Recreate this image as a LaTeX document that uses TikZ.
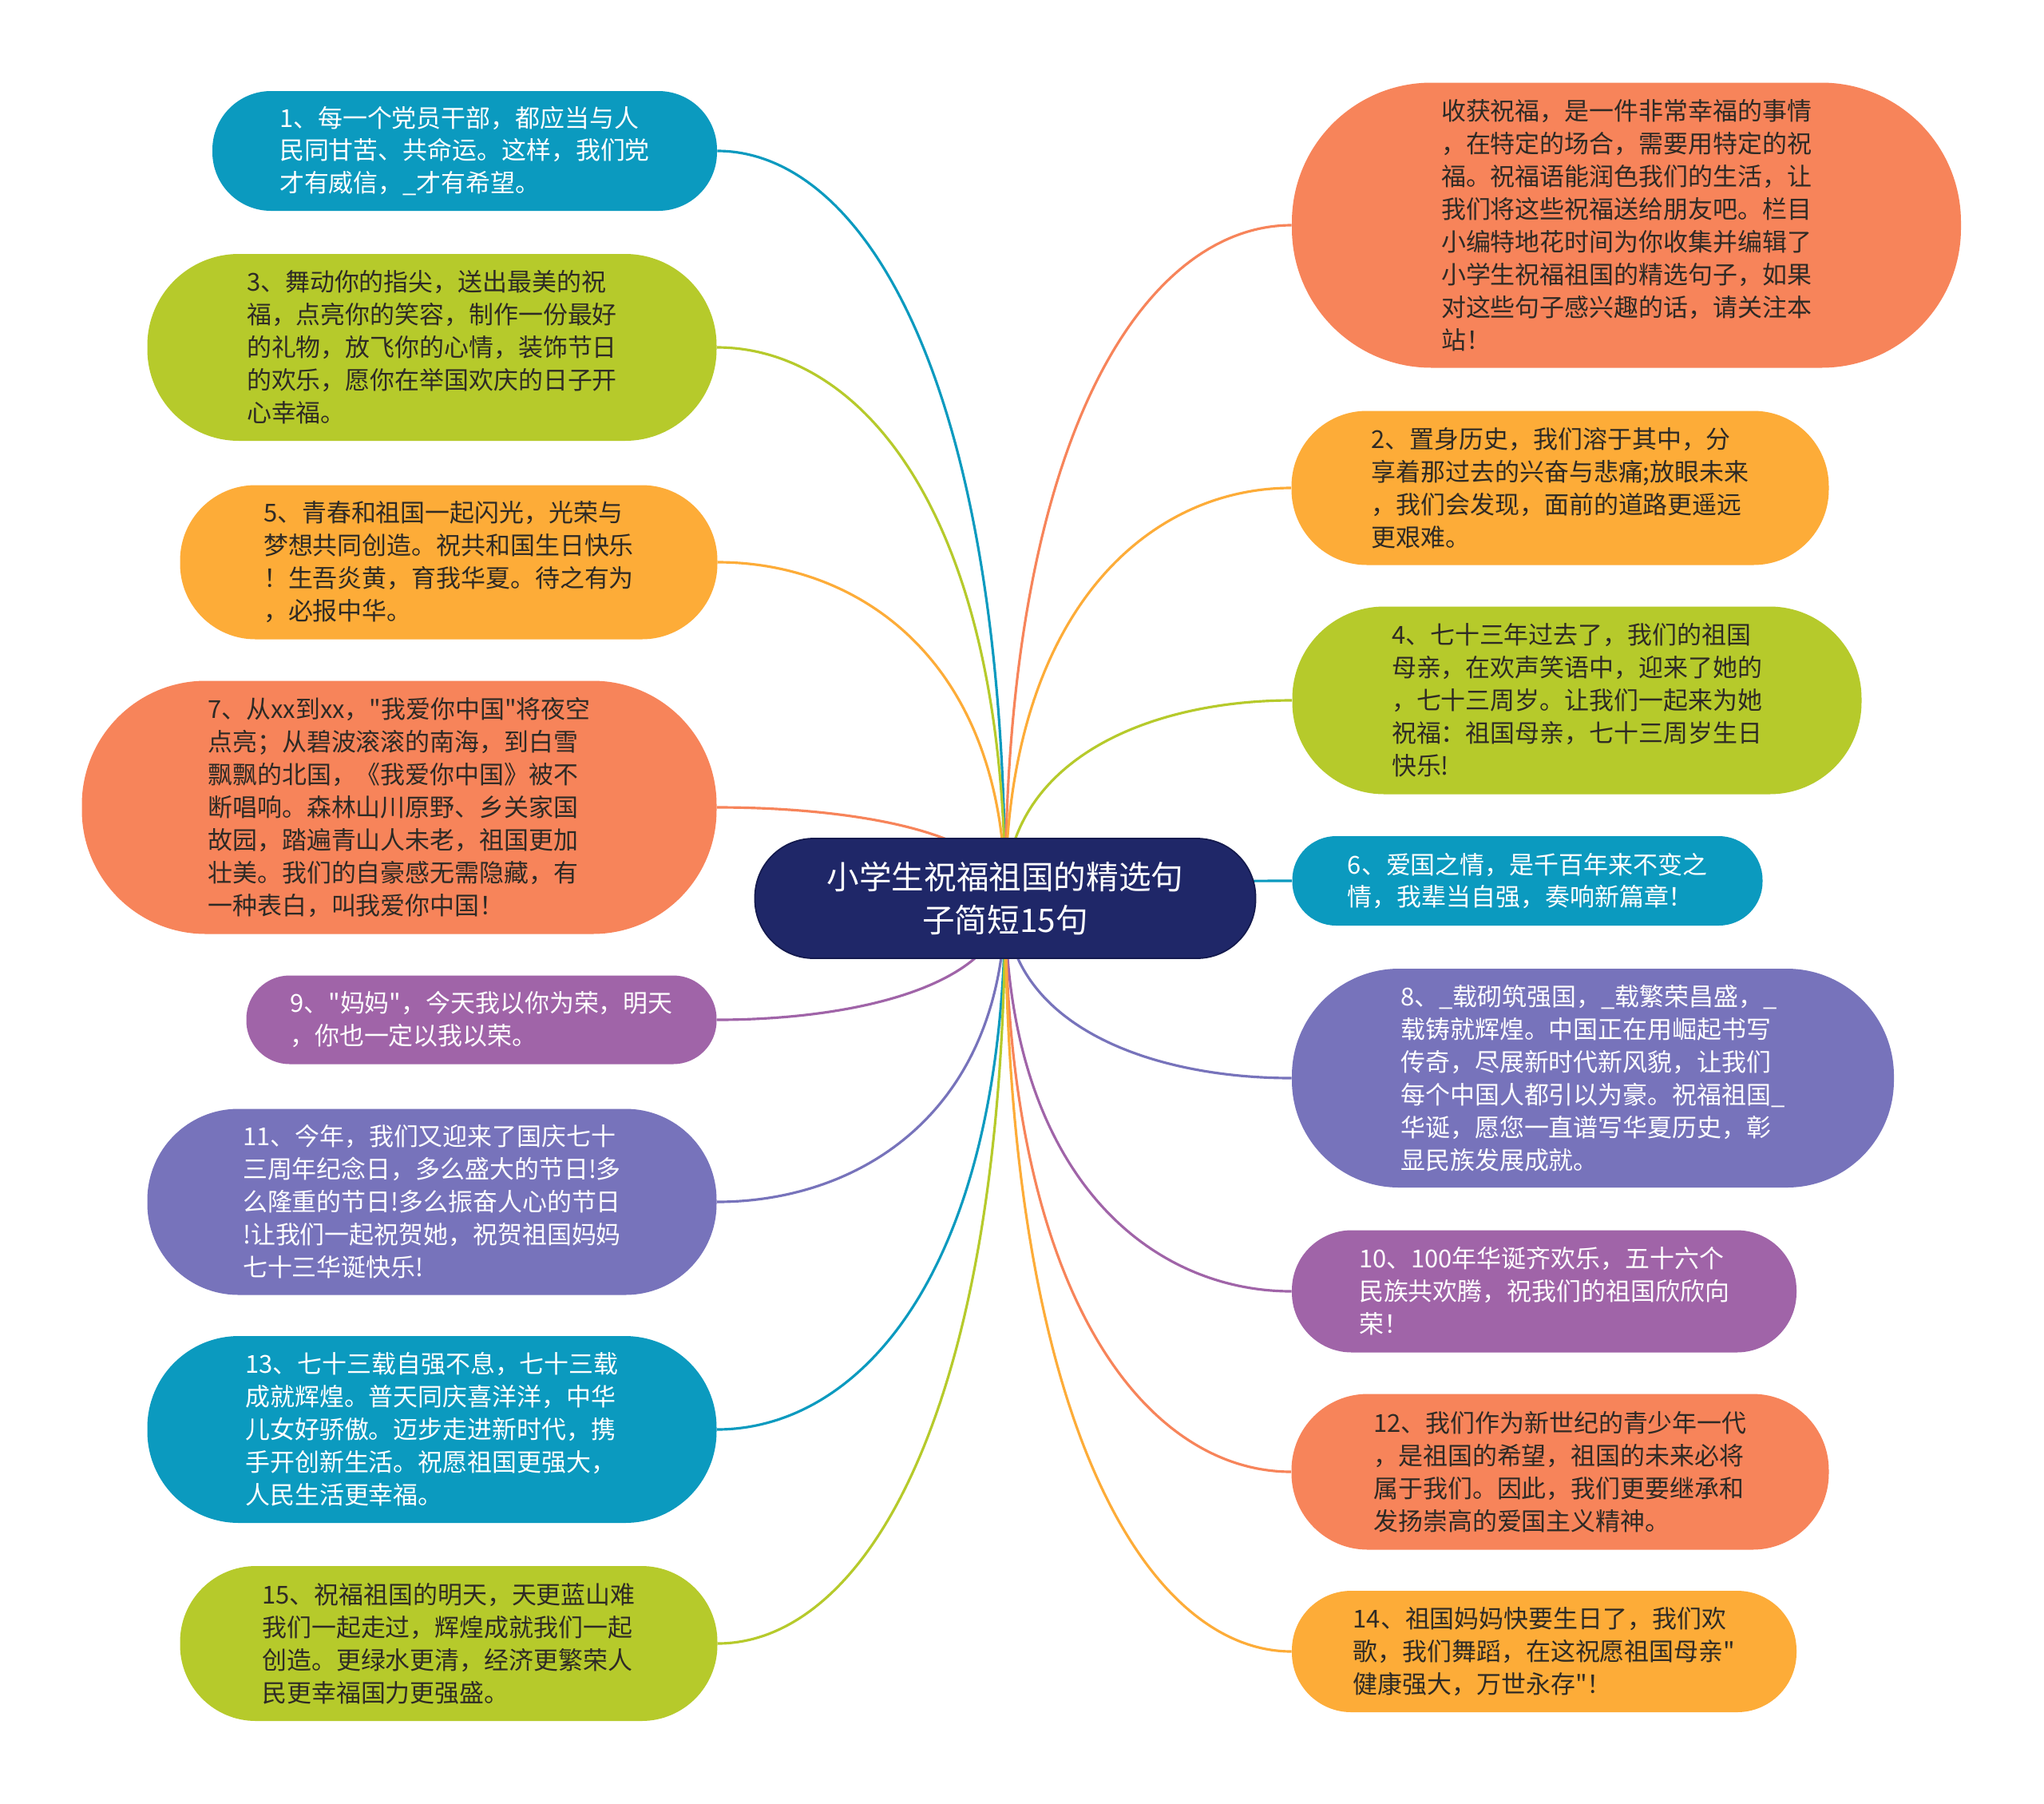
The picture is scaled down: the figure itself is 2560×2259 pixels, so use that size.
\documentclass[tikz,border=0pt]{standalone}
\usepackage{fontspec}
\newfontfamily\mmcjk{Noto Sans CJK SC}
\usetikzlibrary{calc,backgrounds}
\definecolor{cteal}{HTML}{0B9ABF}
\definecolor{cgreen}{HTML}{B6CA2B}
\definecolor{corange}{HTML}{FDAC38}
\definecolor{ccoral}{HTML}{F7845A}
\definecolor{cpurple}{HTML}{A064A8}
\definecolor{cblue}{HTML}{7773BB}
\definecolor{cnavy}{HTML}{1F2768}
\definecolor{cnavyd}{HTML}{141A4E}
\definecolor{cdark}{HTML}{2E2A25}
\newcommand\mmbody{\mmcjk\fontsize{17.6pt}{23.3pt}\selectfont}
\newcommand\mmtitle{\mmcjk\fontsize{23.1pt}{30.6pt}\selectfont}
\newcommand\mmlink[3]{\draw[link,#2] (#1) .. controls ($(#1)!0.5!(c.center|-#1)$) and ($(c.center|-#1)!0.3!(c.center)$) .. (#3);}
\begin{document}
\begin{tikzpicture}[x=0.02cm,y=-0.02cm,
  bub/.style n args={3}{shape=rectangle, minimum width=#1*0.02cm, minimum height=#2*0.02cm,
    rounded corners=#2*0.0098cm, inner sep=0pt, fill=#3, align=left, font=\mmbody},
  link/.style={line width=1.8pt}]
\useasboundingbox (0,0) rectangle (2560,2259);
% central
\node[bub={627}{150}{cnavy}, draw=cnavyd, line width=1pt, text=white, font=\mmtitle, align=center] (c) at (1259,1125) {小学生祝福祖国的精选句\\子简短15句};
% left
\node[bub={632}{150}{cteal}, text=white] (n1) at (582,189) {1、每一个党员干部，都应当与人\\民同甘苦、共命运。这样，我们党\\才有威信，\_才有希望。};
\node[bub={713}{234}{cgreen}, text=cdark] (n3) at (541,435) {3、舞动你的指尖，送出最美的祝\\福，点亮你的笑容，制作一份最好\\的礼物，放飞你的心情，装饰节日\\的欢乐，愿你在举国欢庆的日子开\\心幸福。};
\node[bub={673}{193}{corange}, text=cdark] (n5) at (562,704) {5、青春和祖国一起闪光，光荣与\\梦想共同创造。祝共和国生日快乐\\！生吾炎黄，育我华夏。待之有为\\，必报中华。};
\node[bub={795}{317}{ccoral}, text=cdark] (n7) at (500,1011) {7、从xx到xx，"我爱你中国"将夜空\\点亮；从碧波滚滚的南海，到白雪\\飘飘的北国，《我爱你中国》被不\\断唱响。森林山川原野、乡关家国\\故园，踏遍青山人未老，祖国更加\\壮美。我们的自豪感无需隐藏，有\\一种表白，叫我爱你中国！};
\node[bub={589}{111}{cpurple}, text=white] (n9) at (603,1277) {9、"妈妈"，今天我以你为荣，明天\\，你也一定以我以荣。};
\node[bub={713}{233}{cblue}, text=white] (n11) at (541,1505) {11、今年，我们又迎来了国庆七十\\三周年纪念日，多么盛大的节日!多\\么隆重的节日!多么振奋人心的节日\\!让我们一起祝贺她，祝贺祖国妈妈\\七十三华诞快乐!};
\node[bub={713}{234}{cteal}, text=white] (n13) at (541,1790) {13、七十三载自强不息，七十三载\\成就辉煌。普天同庆喜洋洋，中华\\儿女好骄傲。迈步走进新时代，携\\手开创新生活。祝愿祖国更强大，\\人民生活更幸福。};
\node[bub={673}{194}{cgreen}, text=cdark] (n15) at (562,2058) {15、祝福祖国的明天，天更蓝山难\\我们一起走过，辉煌成就我们一起\\创造。更绿水更清，经济更繁荣人\\民更幸福国力更强盛。};
% right
\node[bub={838}{357}{ccoral}, text=cdark] (r0) at (2037,282) {收获祝福，是一件非常幸福的事情\\，在特定的场合，需要用特定的祝\\福。祝福语能润色我们的生活，让\\我们将这些祝福送给朋友吧。栏目\\小编特地花时间为你收集并编辑了\\小学生祝福祖国的精选句子，如果\\对这些句子感兴趣的话，请关注本\\站！};
\node[bub={673}{193}{corange}, text=cdark] (n2) at (1954,611) {2、置身历史，我们溶于其中，分\\享着那过去的兴奋与悲痛;放眼未来\\，我们会发现，面前的道路更遥远\\更艰难。};
\node[bub={713}{235}{cgreen}, text=cdark] (n4) at (1975,877) {4、七十三年过去了，我们的祖国\\母亲，在欢声笑语中，迎来了她的\\，七十三周岁。让我们一起来为她\\祝福：祖国母亲，七十三周岁生日\\快乐!};
\node[bub={589}{112}{cteal}, text=white] (n6) at (1913,1103) {6、爱国之情，是千百年来不变之\\情，我辈当自强，奏响新篇章！};
\node[bub={754}{274}{cblue}, text=white] (n8) at (1995,1350) {8、\_载砌筑强国，\_载繁荣昌盛，\_\\载铸就辉煌。中国正在用崛起书写\\传奇，尽展新时代新风貌，让我们\\每个中国人都引以为豪。祝福祖国\_\\华诞，愿您一直谱写华夏历史，彰\\显民族发展成就。};
\node[bub={632}{153}{cpurple}, text=white] (n10) at (1934,1617) {10、100年华诞齐欢乐，五十六个\\民族共欢腾，祝我们的祖国欣欣向\\荣！};
\node[bub={673}{195}{ccoral}, text=cdark] (n12) at (1954,1843) {12、我们作为新世纪的青少年一代\\，是祖国的希望，祖国的未来必将\\属于我们。因此，我们更要继承和\\发扬崇高的爱国主义精神。};
\node[bub={632}{152}{corange}, text=cdark] (n14) at (1934,2068) {14、祖国妈妈快要生日了，我们欢\\歌，我们舞蹈，在这祝愿祖国母亲"\\健康强大，万世永存"！};
\begin{scope}[on background layer]
\fill[white] (0,0) rectangle (2560,2259);
\mmlink{n1.east}{cteal}{c.center}
\mmlink{n3.east}{cgreen}{c.center}
\mmlink{n5.east}{corange}{c.center}
\mmlink{n7.east}{ccoral}{c.center}
\mmlink{n9.east}{cpurple}{c.center}
\mmlink{n11.east}{cblue}{c.center}
\mmlink{n13.east}{cteal}{c.center}
\mmlink{n15.east}{cgreen}{c.center}
\mmlink{r0.west}{ccoral}{c.center}
\mmlink{n2.west}{corange}{c.center}
\mmlink{n4.west}{cgreen}{c.center}
\mmlink{n6.west}{cteal}{c.center}
\mmlink{n8.west}{cblue}{c.center}
\mmlink{n10.west}{cpurple}{c.center}
\mmlink{n12.west}{ccoral}{c.center}
\mmlink{n14.west}{corange}{c.center}
\end{scope}
\end{tikzpicture}
\end{document}
